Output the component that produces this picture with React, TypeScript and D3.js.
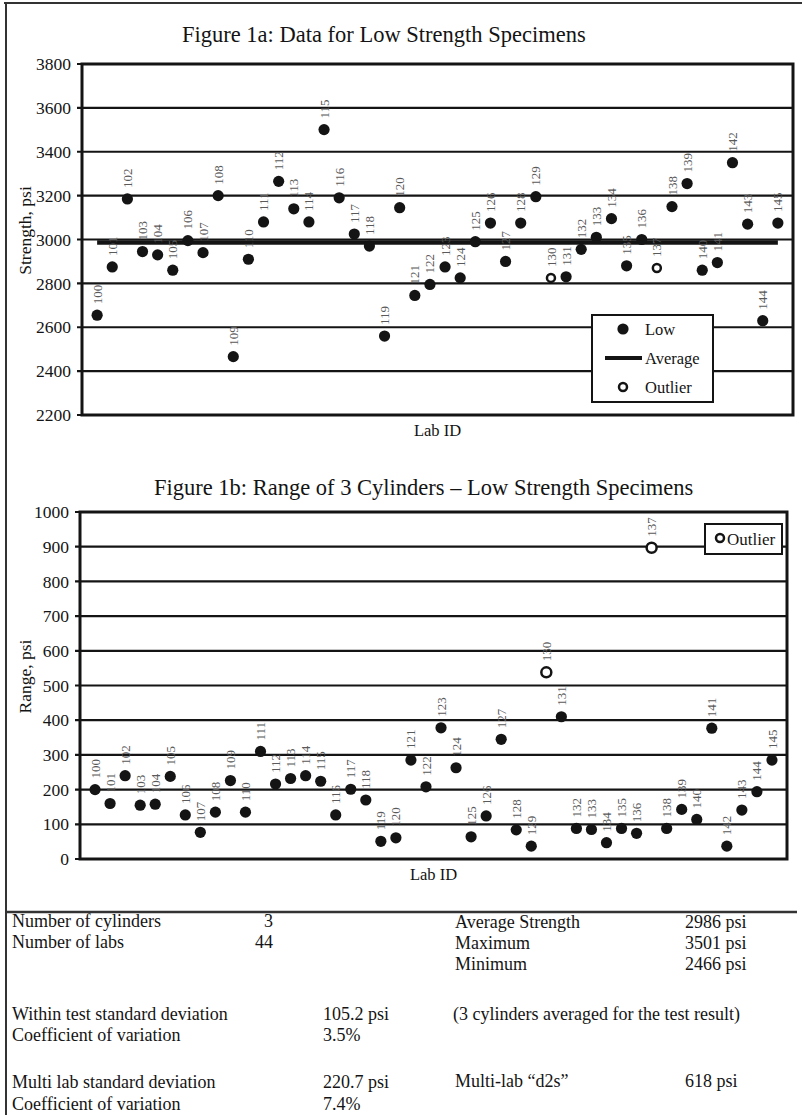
import { useEffect, useRef } from 'react';
import * as d3 from 'd3';

// Lab IDs along the x axis
const labIds = [
  100, 101, 102, 103, 104, 105, 106, 107, 108, 109,
  110, 111, 112, 113, 114, 115, 116, 117, 118, 119,
  120, 121, 122, 123, 124, 125, 126, 127, 128, 129,
  130, 131, 132, 133, 134, 135, 136, 137, 138, 139,
  140, 141, 142, 143, 144, 145,
];

// Figure 1a: average strength per lab, psi
const lowStrength = [
  2655, 2875, 3185, 2945, 2930, 2860, 2995, 2940, 3200, 2466,
  2910, 3080, 3265, 3140, 3080, 3501, 3190, 3025, 2970, 2560,
  3145, 2745, 2795, 2875, 2825, 2990, 3075, 2900, 3075, 3195,
  2825, 2830, 2955, 3010, 3095, 2880, 3000, 2870, 3150, 3255,
  2860, 2895, 3350, 3070, 2630, 3075,
];

// Figure 1b: range of 3 cylinders per lab, psi
const cylinderRange = [
  200, 160, 240, 155, 158, 238, 127, 77, 135, 226,
  135, 310, 216, 232, 240, 224, 127, 201, 170, 51,
  61, 285, 208, 378, 263, 64, 124, 345, 84, 37,
  538, 410, 88, 85, 47, 88, 74, 897, 88, 143,
  114, 377, 37, 141, 194, 285,
];

const outlierLabs = [130, 137];
const averageStrength = 2986;

const strengthTicks = [2200, 2400, 2600, 2800, 3000, 3200, 3400, 3600, 3800];
const rangeTicks = [0, 100, 200, 300, 400, 500, 600, 700, 800, 900, 1000];

// Summary table
const countRows = [['Number of cylinders', '3'], ['Number of labs', '44']];
const strengthRows = [['Average Strength', '2986 psi'], ['Maximum', '3501 psi'], ['Minimum', '2466 psi']];
const withinRows = [['Within test standard deviation', '105.2 psi'], ['Coefficient of variation', '3.5%']];
const multiRows = [['Multi lab standard deviation', '220.7 psi'], ['Coefficient of variation', '7.4%']];
const noteText = '(3 cylinders averaged for the test result)';
const d2sRow = ['Multi-lab \u201Cd2s\u201D', '618 psi'];

const FONT = '"Liberation Serif", "Times New Roman", serif';
const INK = '#141414';

interface PanelOpts {
  title: string;
  titleX: number;
  titleY: number;
  left: number;
  right: number;
  top: number;
  bottom: number;
  ticks: number[];
  values: number[];
  yLabel: string;
  average?: number;
  outlierR: number;
}

function drawPanel(root: d3.Selection<SVGGElement, unknown, null, undefined>, o: PanelOpts) {
  const g = root.append('g');
  const x = d3.scalePoint<string>()
    .domain(labIds.map(String))
    .range([o.left, o.right])
    .padding(1);
  const y = d3.scaleLinear()
    .domain([o.ticks[0], o.ticks[o.ticks.length - 1]])
    .range([o.bottom, o.top]);

  g.append('text')
    .attr('x', o.titleX)
    .attr('y', o.titleY)
    .attr('font-size', 22.5)
    .attr('fill', INK)
    .text(o.title);

  // gridlines
  g.selectAll('line.grid')
    .data(o.ticks)
    .join('line')
    .attr('class', 'grid')
    .attr('x1', o.left - 5)
    .attr('x2', o.right)
    .attr('y1', d => y(d))
    .attr('y2', d => y(d))
    .attr('stroke', INK)
    .attr('stroke-width', 2.2);

  g.append('rect')
    .attr('x', o.left)
    .attr('y', o.top)
    .attr('width', o.right - o.left)
    .attr('height', o.bottom - o.top)
    .attr('fill', 'none')
    .attr('stroke', INK)
    .attr('stroke-width', 3);

  g.selectAll('text.tick')
    .data(o.ticks)
    .join('text')
    .attr('class', 'tick')
    .attr('x', o.left - 11)
    .attr('y', d => y(d))
    .attr('dy', '0.35em')
    .attr('text-anchor', 'end')
    .attr('font-size', 17.5)
    .attr('fill', INK)
    .text(d => d);

  g.append('text')
    .attr('transform', `translate(25,${(o.top + o.bottom) / 2 - 9}) rotate(-90)`)
    .attr('text-anchor', 'middle')
    .attr('dy', '0.35em')
    .attr('font-size', 17.5)
    .attr('fill', INK)
    .text(o.yLabel);

  g.append('text')
    .attr('x', (o.left + o.right) / 2)
    .attr('y', o.bottom + 21)
    .attr('text-anchor', 'middle')
    .attr('font-size', 16.5)
    .attr('fill', INK)
    .text('Lab ID');

  if (o.average !== undefined) {
    g.append('line')
      .attr('x1', x(String(labIds[0]))!)
      .attr('x2', x(String(labIds[labIds.length - 1]))!)
      .attr('y1', y(o.average))
      .attr('y2', y(o.average))
      .attr('stroke', INK)
      .attr('stroke-width', 4.5);
  }

  const pts = labIds.map((id, i) => ({ id, v: o.values[i], out: outlierLabs.includes(id) }));

  // rotated data labels
  g.selectAll('text.lab')
    .data(pts)
    .join('text')
    .attr('class', 'lab')
    .attr('transform', d => `translate(${x(String(d.id))},${y(d.v) - 11}) rotate(-90)`)
    .attr('dy', '0.35em')
    .attr('font-size', 13)
    .attr('fill', '#5a5a5a')
    .text(d => d.id);

  g.selectAll('circle.pt')
    .data(pts.filter(d => !d.out))
    .join('circle')
    .attr('class', 'pt')
    .attr('cx', d => x(String(d.id))!)
    .attr('cy', d => y(d.v))
    .attr('r', 5.6)
    .attr('fill', INK);

  g.selectAll('circle.out')
    .data(pts.filter(d => d.out))
    .join('circle')
    .attr('class', 'out')
    .attr('cx', d => x(String(d.id))!)
    .attr('cy', d => y(d.v))
    .attr('r', o.outlierR)
    .attr('fill', '#fff')
    .attr('stroke', INK)
    .attr('stroke-width', 2.5);
}

export default function App() {
  const svgRef = useRef<SVGSVGElement>(null);

  useEffect(() => {
    if (!svgRef.current) return;
    const svg = d3.select(svgRef.current);
    svg.selectAll('*').remove();
    const root = svg.append('g').attr('font-family', FONT);

    root.append('rect').attr('width', 802).attr('height', 1115).attr('fill', '#fff');

    // outer frame
    root.append('line').attr('x1', 4).attr('x2', 802).attr('y1', 3).attr('y2', 3)
      .attr('stroke', '#333').attr('stroke-width', 2);
    root.append('line').attr('x1', 6).attr('x2', 6).attr('y1', 3).attr('y2', 1115)
      .attr('stroke', '#333').attr('stroke-width', 2);
    root.append('line').attr('x1', 5).attr('x2', 797).attr('y1', 912).attr('y2', 912)
      .attr('stroke', '#333').attr('stroke-width', 2.5);

    drawPanel(root, {
      title: 'Figure 1a: Data for Low Strength Specimens',
      titleX: 182, titleY: 42,
      left: 82, right: 793, top: 64, bottom: 415,
      ticks: strengthTicks,
      values: lowStrength,
      yLabel: 'Strength, psi',
      average: averageStrength,
      outlierR: 4,
    });

    drawPanel(root, {
      title: 'Figure 1b: Range of 3 Cylinders \u2013 Low Strength Specimens',
      titleX: 154, titleY: 495,
      left: 80, right: 787, top: 512, bottom: 859,
      ticks: rangeTicks,
      values: cylinderRange,
      yLabel: 'Range, psi',
      outlierR: 5,
    });

    // legend, figure 1a
    const lg = root.append('g');
    lg.append('rect').attr('x', 592).attr('y', 315).attr('width', 121).attr('height', 87)
      .attr('fill', '#fff').attr('stroke', INK).attr('stroke-width', 2);
    lg.append('circle').attr('cx', 623).attr('cy', 329).attr('r', 5.6).attr('fill', INK);
    lg.append('line').attr('x1', 605).attr('x2', 642).attr('y1', 358).attr('y2', 358)
      .attr('stroke', INK).attr('stroke-width', 4);
    lg.append('circle').attr('cx', 623).attr('cy', 387).attr('r', 4)
      .attr('fill', '#fff').attr('stroke', INK).attr('stroke-width', 2.5);
    lg.selectAll('text')
      .data(['Low', 'Average', 'Outlier'])
      .join('text')
      .attr('x', 645)
      .attr('y', (_, i) => 335 + i * 29)
      .attr('font-size', 16.5)
      .attr('fill', INK)
      .text(d => d);

    // legend, figure 1b
    const lb = root.append('g');
    lb.append('rect').attr('x', 705).attr('y', 524).attr('width', 77).attr('height', 30)
      .attr('fill', '#fff').attr('stroke', INK).attr('stroke-width', 2);
    lb.append('circle').attr('cx', 720).attr('cy', 538).attr('r', 4)
      .attr('fill', '#fff').attr('stroke', INK).attr('stroke-width', 2.5);
    lb.append('text').attr('x', 727).attr('y', 545).attr('font-size', 17)
      .attr('fill', INK).text('Outlier');

    // summary table
    const tb = root.append('g').attr('font-size', 18).attr('fill', INK);
    const row = (label: string, value: string, lx: number, vx: number, yy: number, anchor = 'start') => {
      tb.append('text').attr('x', lx).attr('y', yy).text(label);
      tb.append('text').attr('x', vx).attr('y', yy).attr('text-anchor', anchor).text(value);
    };
    countRows.forEach((r, i) => row(r[0], r[1], 12, 273, 927 + i * 21, 'end'));
    strengthRows.forEach((r, i) => row(r[0], r[1], 455, 685, 928 + i * 21));
    withinRows.forEach((r, i) => row(r[0], r[1], 12, 323, 1020 + i * 21));
    multiRows.forEach((r, i) => row(r[0], r[1], 12, 323, 1088 + i * 22));
    tb.append('text').attr('x', 453).attr('y', 1020).text(noteText);
    row(d2sRow[0], d2sRow[1], 455, 685, 1087);
  }, []);

  return (
    <div style={{ position: 'absolute', left: 0, top: 0 }}>
      <svg ref={svgRef} width={802} height={1115} style={{ display: 'block' }}></svg>
    </div>
  );
}
